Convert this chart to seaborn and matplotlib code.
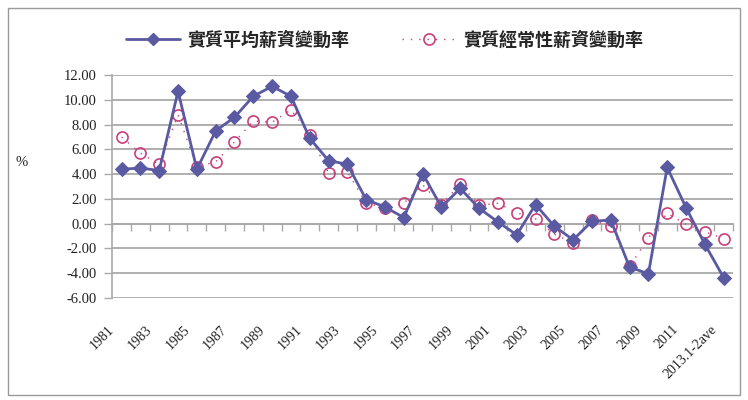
import matplotlib
matplotlib.use("Agg")
import matplotlib.pyplot as plt
from matplotlib.lines import Line2D
from matplotlib.patches import Rectangle
from matplotlib.transforms import ScaledTranslation
import numpy as np
import pandas as pd
import seaborn as sns

# Years on the category axis
categories = [str(y) for y in range(1981, 2013)] + ["2013.1-2ave"]

# 實質平均薪資變動率 (%)
avg_wage = [4.4, 4.5, 4.3, 10.7, 4.4, 7.5, 8.6, 10.3, 11.1, 10.3,
            6.9, 5.1, 4.8, 1.95, 1.35, 0.5, 4.05, 1.35, 2.85, 1.25,
            0.15, -0.9, 1.55, -0.2, -1.3, 0.2, 0.3, -3.5, -4.05, 4.55,
            1.3, -1.65, -4.35]

# 實質經常性薪資變動率 (%)
regular_wage = [7.0, 5.7, 4.8, 8.8, 4.6, 5.0, 6.6, 8.3, 8.2, 9.2,
                7.2, 4.1, 4.2, 1.65, 1.3, 1.65, 3.15, 1.55, 3.2, 1.5,
                1.65, 0.9, 0.4, -0.85, -1.55, 0.3, -0.2, -3.45, -1.15, 0.85,
                -0.05, -0.65, -1.2]

series_names = ["實質平均薪資變動率", "實質經常性薪資變動率"]
y_ticks = [-6, -4, -2, 0, 2, 4, 6, 8, 10, 12]

sns.set_theme(style="white")
plt.rcParams["font.family"] = ["Noto Sans CJK TC", "DejaVu Sans"]

blue = "#5a5aa2"
pink = "#c8407a"
grid_gray = "#a9a9a9"

pos = np.arange(len(categories))
df = pd.DataFrame({"pos": pos, "avg": avg_wage, "reg": regular_wage})

fig = plt.figure(figsize=(7.48, 4.0), dpi=100)
ax = fig.add_axes([0.150, 0.255, 0.830, 0.557])

sns.lineplot(data=df, x="pos", y="reg", ax=ax, color=pink, lw=1.0,
             linestyle=(0, (1, 5)), marker="o", markersize=8,
             markerfacecolor="none", markeredgecolor=pink,
             markeredgewidth=1.2, zorder=3)
sns.lineplot(data=df, x="pos", y="avg", ax=ax, color=blue, lw=2.0,
             marker="D", markersize=7.5, markerfacecolor=blue,
             markeredgecolor=blue, zorder=4)

ax.set_xlim(-0.5, len(categories) - 0.5)
ax.set_ylim(-6, 12)
ax.set_yticks(y_ticks)
ax.set_yticklabels([f"{v:.2f}" for v in y_ticks], family="Liberation Serif",
                   fontsize=10.5, color="#222222")
ax.yaxis.grid(True, color=grid_gray, lw=1.3)
ax.xaxis.grid(False)
ax.tick_params(axis="y", which="major", direction="out", length=6,
               width=1, color=grid_gray, pad=5, left=True)

# Category labels every other year along the bottom
ax.set_xticks(pos[::2])
ax.set_xticklabels(categories[::2], rotation=45, ha="right",
                   rotation_mode="anchor", family="Liberation Serif",
                   fontsize=10, color="#222222")
ax.tick_params(axis="x", length=0, pad=18)
shift = ScaledTranslation(-10 / 72, 0, fig.dpi_scale_trans)
for lbl in ax.get_xticklabels():
    lbl.set_transform(lbl.get_transform() + shift)

for side in ["top", "right", "bottom"]:
    ax.spines[side].set_visible(False)
ax.spines["left"].set_color(grid_gray)
ax.spines["left"].set_linewidth(1.2)

# Category axis crossing at zero with boundary tick marks
sec = ax.secondary_xaxis(0, transform=ax.transData)
sec.set_xticks(np.arange(-0.5, len(categories), 1.0))
sec.set_xticklabels([])
sec.tick_params(direction="out", length=5, width=1, color=grid_gray)
sec.spines["bottom"].set_color(grid_gray)
sec.spines["bottom"].set_linewidth(1.3)

ax.set_xlabel("")
ax.set_ylabel("%", rotation=0, family="Liberation Serif", fontsize=10.5,
              color="#222222")
ax.yaxis.set_label_coords(-0.146, 0.58)

handles = [
    Line2D([], [], color=blue, lw=2.0, marker="D", markersize=6,
           markerfacecolor=blue),
    Line2D([], [], color=pink, lw=1.0, linestyle=(0, (1, 5)), marker="o",
           markersize=8, markerfacecolor="none", markeredgecolor=pink,
           markeredgewidth=1.2),
]
fig.legend(handles, series_names, loc="center", bbox_to_anchor=(0.514, 0.9),
           ncol=2, frameon=False, handlelength=3.0, handletextpad=0.4,
           columnspacing=2.9,
           prop={"family": ["Noto Sans CJK TC", "DejaVu Sans"],
                 "size": 13, "weight": "bold"})

fig.patches.append(Rectangle((0.011, 0.012), 0.978, 0.968,
                             transform=fig.transFigure, fill=False,
                             edgecolor="#9a9a9a", lw=1.0))

fig.savefig("out.png", dpi=100)
